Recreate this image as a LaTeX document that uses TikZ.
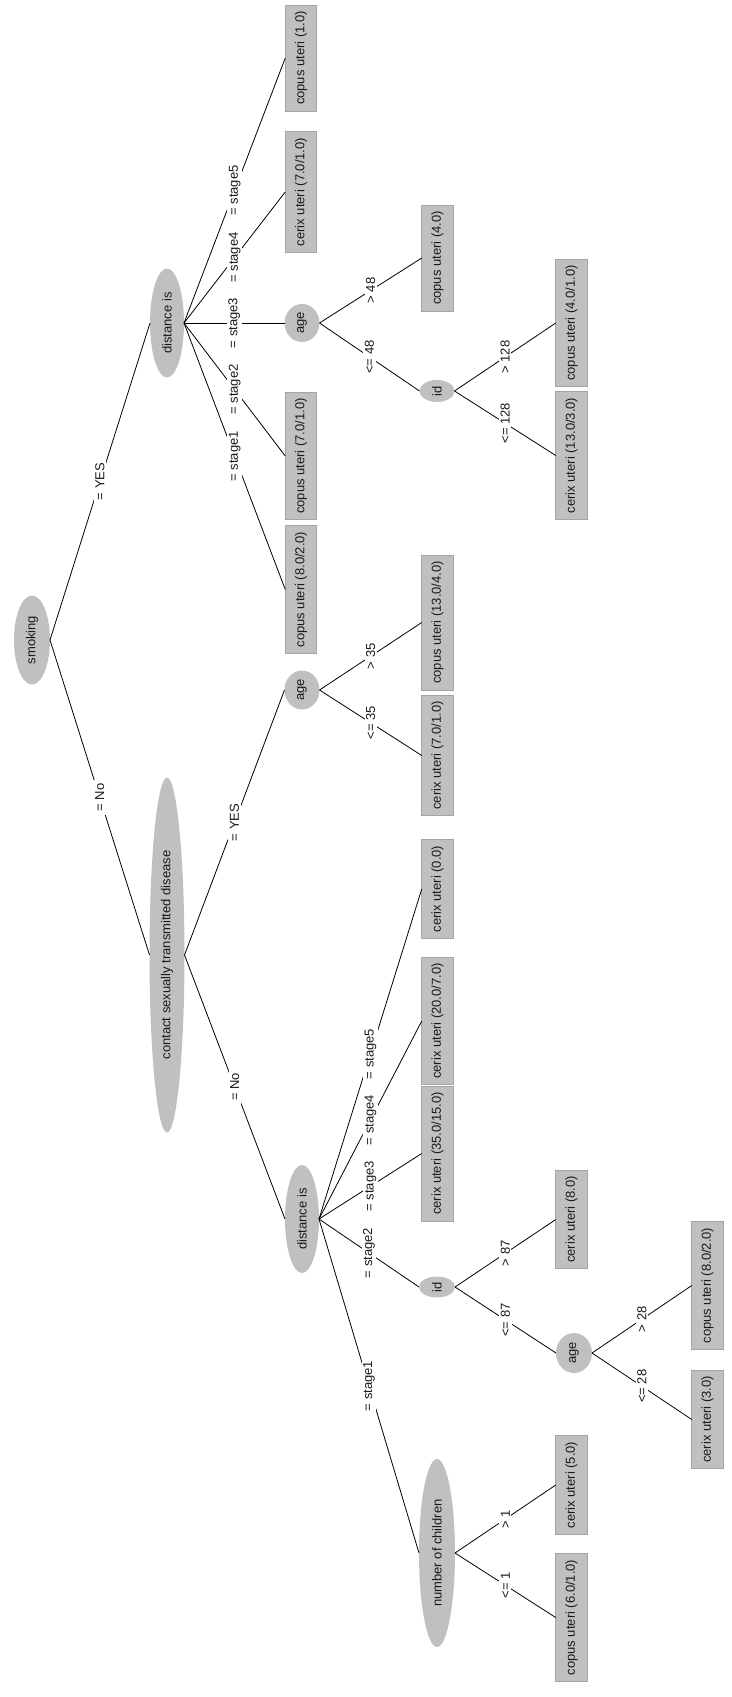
\documentclass[tikz,border=0pt]{standalone}
\usepackage{fontspec}
\setmainfont{Liberation Sans}
\usetikzlibrary{shapes.geometric}
\definecolor{nodegray}{HTML}{C0C0C0}
\definecolor{boxedge}{HTML}{A4A4A4}
\definecolor{inkcol}{HTML}{1A1A1A}
\begin{document}
\begin{tikzpicture}[x=1pt,y=-1pt,
  every node/.style={font=\fontsize{13}{15}\selectfont, text=inkcol, rotate=90, outer sep=0pt},
  test/.style={ellipse, fill=nodegray, inner sep=0pt},
  leaf/.style={rectangle, fill=nodegray, draw=boxedge, line width=0.8pt,
               inner xsep=6pt, inner ysep=0pt, minimum height=31.5pt},
  lbl/.style={fill=white, inner xsep=4pt, inner ysep=1.5pt},
  branch/.style={line width=0.8pt, draw=black}]

\useasboundingbox (0,0) rectangle (731,1697);

% ---- decision nodes ----
\node[test, minimum width=89pt,  minimum height=36pt] (smoking) at (32,640)   {smoking};
\node[test, minimum width=109pt, minimum height=34pt] (distA)   at (167,323)  {distance is};
\node[test, minimum width=355pt, minimum height=35pt] (contact) at (167,955)  {contact sexually transmitted disease};
\node[test, minimum width=38pt,  minimum height=35pt] (ageA)    at (302,323)  {age};
\node[test, minimum width=39pt,  minimum height=35pt] (ageB)    at (302,690)  {age};
\node[test, minimum width=108pt, minimum height=34pt] (distB)   at (302,1219) {distance is};
\node[test, minimum width=22pt,  minimum height=35pt] (idA)     at (437,391)  {id};
\node[test, minimum width=21pt,  minimum height=36pt] (idB)     at (437,1287) {id};
\node[test, minimum width=188pt, minimum height=36pt] (nchild)  at (437,1553) {number of children};
\node[test, minimum width=40pt,  minimum height=36pt] (ageC)    at (574,1353) {age};

% ---- leaves ----
\node[leaf] (lA1) at (301,589.5)   {copus uteri (8.0/2.0)};
\node[leaf] (lA2) at (301,456)     {copus uteri (7.0/1.0)};
\node[leaf] (lA4) at (301,192)     {cerix uteri (7.0/1.0)};
\node[leaf] (lA5) at (301,58)      {copus uteri (1.0)};
\node[leaf] (lAg) at (437.5,258)   {copus uteri (4.0)};
\node[leaf] (lIa) at (571.5,455.5) {cerix uteri (13.0/3.0)};
\node[leaf] (lIb) at (571.5,323)   {copus uteri (4.0/1.0)};
\node[leaf] (lBa) at (437.5,755.5) {cerix uteri (7.0/1.0)};
\node[leaf] (lBb) at (437.5,622.5) {copus uteri (13.0/4.0)};
\node[leaf] (lB3) at (437.5,1153.5){cerix uteri (35.0/15.0)};
\node[leaf] (lB4) at (437.5,1021)  {cerix uteri (20.0/7.0)};
\node[leaf] (lB5) at (437.5,889)   {cerix uteri (0.0)};
\node[leaf] (lId) at (571.5,1219.5){cerix uteri (8.0)};
\node[leaf] (lCa) at (707.5,1419.5){cerix uteri (3.0)};
\node[leaf] (lCb) at (707.5,1285.5){copus uteri (8.0/2.0)};
\node[leaf] (lNa) at (571.5,1617.5){copus uteri (6.0/1.0)};
\node[leaf] (lNb) at (571.5,1485)  {cerix uteri (5.0)};

% ---- branches ----
\draw[branch] (smoking.south) -- node[lbl]{= YES} (distA.north);
\draw[branch] (smoking.south) -- node[lbl]{= No} (contact.north);

\draw[branch] (distA.south) -- node[lbl]{= stage1} (lA1.north);
\draw[branch] (distA.south) -- node[lbl]{= stage2} (lA2.north);
\draw[branch] (distA.south) -- node[lbl]{= stage3} (ageA.north);
\draw[branch] (distA.south) -- node[lbl]{= stage4} (lA4.north);
\draw[branch] (distA.south) -- node[lbl]{= stage5} (lA5.north);

\draw[branch] (ageA.south) -- node[lbl]{<= 48} (idA.north);
\draw[branch] (ageA.south) -- node[lbl]{> 48} (lAg.north);
\draw[branch] (idA.south) -- node[lbl]{<= 128} (lIa.north);
\draw[branch] (idA.south) -- node[lbl]{> 128} (lIb.north);

\draw[branch] (contact.south) -- node[lbl]{= YES} (ageB.north);
\draw[branch] (contact.south) -- node[lbl]{= No} (distB.north);

\draw[branch] (ageB.south) -- node[lbl]{<= 35} (lBa.north);
\draw[branch] (ageB.south) -- node[lbl]{> 35} (lBb.north);

\draw[branch] (distB.south) -- node[lbl]{= stage1} (nchild.north);
\draw[branch] (distB.south) -- node[lbl]{= stage2} (idB.north);
\draw[branch] (distB.south) -- node[lbl]{= stage3} (lB3.north);
\draw[branch] (distB.south) -- node[lbl]{= stage4} (lB4.north);
\draw[branch] (distB.south) -- node[lbl]{= stage5} (lB5.north);

\draw[branch] (idB.south) -- node[lbl]{<= 87} (ageC.north);
\draw[branch] (idB.south) -- node[lbl]{> 87} (lId.north);
\draw[branch] (ageC.south) -- node[lbl]{<= 28} (lCa.north);
\draw[branch] (ageC.south) -- node[lbl]{> 28} (lCb.north);

\draw[branch] (nchild.south) -- node[lbl]{<= 1} (lNa.north);
\draw[branch] (nchild.south) -- node[lbl]{> 1} (lNb.north);
\end{tikzpicture}
\end{document}
